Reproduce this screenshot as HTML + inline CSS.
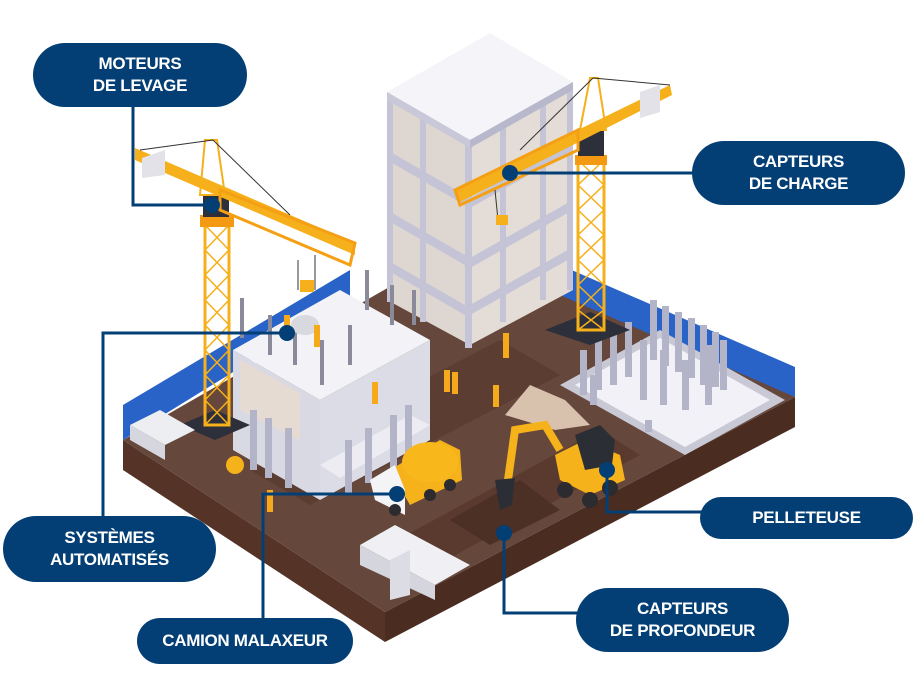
<!DOCTYPE html>
<html><head><meta charset="utf-8"><style>
html,body{margin:0;padding:0;background:#fff;}
.w{position:relative;width:921px;height:676px;overflow:hidden;font-family:"Liberation Sans",sans-serif;}
.p{position:absolute;background:#033f74;color:#fff;border-radius:34px;display:flex;align-items:center;justify-content:center;text-align:center;font-weight:bold;font-size:17px;line-height:22px;letter-spacing:-0.3px;}
svg{position:absolute;left:0;top:0;}
</style></head><body><div class="w">
<svg width="921" height="676" viewBox="0 0 921 676">
<!-- platform -->
<polygon points="123,440 385,612 385,642 123,470" fill="#553427"/>
<polygon points="385,612 795,397 795,427 385,642" fill="#4a2c20"/>
<polygon points="123,440 485,232 795,397 385,612" fill="#65473b"/>
<!-- darker paths -->
<polygon points="250,470 500,340 560,375 310,505" fill="#5c3d31"/>
<polygon points="360,560 600,430 640,455 400,585" fill="#5a3a2e"/>
<polygon points="450,520 520,480 560,510 490,545" fill="#4d3025"/>
<!-- fences -->
<polygon points="123,440 123,405 350,270 350,300" fill="#2a63c7"/>
<polygon points="560,265 795,367 795,397 560,295" fill="#2a63c7"/>
<!-- right pad -->
<polygon points="560,385 660,330 785,400 685,455" fill="#c9c9d6"/>
<polygon points="575,385 660,338 770,400 685,447" fill="#f1f1f7"/>
<g fill="#b4b4c8">
<rect x="580" y="350" width="7" height="45"/><rect x="595" y="340" width="7" height="50"/><rect x="610" y="330" width="7" height="55"/><rect x="625" y="322" width="7" height="55"/><rect x="650" y="300" width="7" height="60"/><rect x="662" y="306" width="7" height="60"/><rect x="675" y="312" width="7" height="60"/><rect x="688" y="318" width="7" height="60"/><rect x="700" y="325" width="7" height="60"/><rect x="712" y="332" width="7" height="55"/><rect x="720" y="340" width="7" height="50"/><rect x="640" y="340" width="7" height="60"/><rect x="660" y="350" width="7" height="55"/><rect x="682" y="360" width="7" height="50"/><rect x="705" y="345" width="7" height="60"/><rect x="590" y="375" width="7" height="30"/><rect x="645" y="420" width="7" height="12"/>
</g>
<!-- tall building -->
<polygon points="387,92 470,140 470,345 387,300" fill="#ded6d0"/>
<polygon points="470,140 573,82 573,290 470,345" fill="#e4dcd6"/>
<g fill="#c4c4d6">
<polygon points="387,150 470,198 470,208 387,160"/><polygon points="387,210 470,258 470,268 387,220"/><polygon points="387,260 470,308 470,318 387,270"/>
<polygon points="470,198 573,140 573,150 470,208"/><polygon points="470,258 573,200 573,210 470,268"/><polygon points="470,305 573,247 573,257 470,315"/>
<rect x="387" y="92" width="6" height="210"/><rect x="420" y="112" width="6" height="210"/><rect x="465" y="138" width="7" height="210"/><rect x="500" y="122" width="6" height="200"/><rect x="540" y="100" width="6" height="200"/><rect x="567" y="85" width="6" height="205"/>
</g>
<polygon points="387,92 490,33 573,82 470,140" fill="#f5f4f9"/>
<polygon points="387,92 470,140 470,148 387,100" fill="#c8c8d8"/>
<polygon points="470,140 573,82 573,90 470,148" fill="#b8b8cc"/>
<!-- left building -->
<polygon points="233,350 320,400 320,500 233,450" fill="#d9d9e3"/>
<polygon points="320,400 430,340 430,440 320,500" fill="#dcdce6"/>
<polygon points="233,350 340,290 430,340 320,400" fill="#f2f2f7"/>
<polygon points="240,360 300,393 300,440 240,410" fill="#e6dbd2"/>
<polygon points="320,465 410,415 430,425 340,478" fill="#ececf2"/>
<g fill="#b4b4c8"><rect x="250" y="410" width="7" height="60"/><rect x="265" y="418" width="7" height="60"/><rect x="285" y="428" width="7" height="60"/><rect x="345" y="440" width="7" height="55"/><rect x="365" y="428" width="7" height="55"/><rect x="390" y="415" width="7" height="55"/><rect x="405" y="405" width="7" height="55"/></g>
<g fill="#8a8a9a"><rect x="240" y="298" width="4" height="40"/><rect x="268" y="315" width="4" height="40"/><rect x="293" y="320" width="4" height="45"/><rect x="320" y="340" width="4" height="45"/><rect x="348" y="325" width="4" height="40"/><rect x="365" y="270" width="4" height="40"/><rect x="390" y="285" width="4" height="40"/><rect x="412" y="290" width="4" height="35"/></g>
<!-- left crane -->
<polygon points="180,425 215,410 250,425 215,440" fill="#2d2f3a"/>
<rect x="205" y="225" width="24" height="200" fill="none" stroke="#f5b01b" stroke-width="3"/>
<path d="M205,225 L229,250 L205,275 L229,300 L205,325 L229,350 L205,375 L229,400 L205,425 M229,225 L205,250 L229,275 L205,300 L229,325 L205,350 L229,375 L205,400 L229,425" stroke="#f5b01b" stroke-width="1.5" fill="none"/>
<rect x="200" y="215" width="34" height="12" fill="#f39a12"/>
<rect x="203" y="195" width="26" height="22" fill="#2d2f3a"/>
<polygon points="205,140 217,140 225,195 200,195" fill="none" stroke="#f5b01b" stroke-width="2"/>
<polygon points="135,148 355,243 355,255 135,160" fill="#f5b01b"/>
<polygon points="220,190 355,243 350,265 220,210" fill="none" stroke="#f5a014" stroke-width="3"/>
<polygon points="142,158 165,150 165,175 142,178" fill="#e2e2e8"/>
<line x1="140" y1="150" x2="213" y2="140" stroke="#333" stroke-width="1"/>
<line x1="213" y1="140" x2="290" y2="215" stroke="#333" stroke-width="1"/>
<line x1="298" y1="260" x2="298" y2="290" stroke="#333"/><line x1="315" y1="255" x2="315" y2="290" stroke="#333"/>
<rect x="300" y="280" width="14" height="12" fill="#f5b01b"/>
<ellipse cx="305" cy="325" rx="14" ry="10" fill="#d8d8df"/>
<!-- right crane -->
<polygon points="545,330 590,312 630,330 590,345" fill="#2d2f3a"/>
<rect x="578" y="160" width="26" height="170" fill="none" stroke="#f5b01b" stroke-width="3"/>
<path d="M578,160 L604,185 L578,210 L604,235 L578,260 L604,285 L578,310 L604,330 M604,160 L578,185 L604,210 L578,235 L604,260 L578,285 L604,310 L578,330" stroke="#f5b01b" stroke-width="1.5" fill="none"/>
<rect x="575" y="155" width="32" height="10" fill="#f39a12"/>
<rect x="578" y="130" width="26" height="26" fill="#2d2f3a"/>
<polygon points="590,78 598,78 606,130 580,130" fill="none" stroke="#f5b01b" stroke-width="2"/>
<polygon points="455,190 670,85 672,95 458,203" fill="#f5b01b"/>
<polygon points="455,190 578,130 578,150 460,205" fill="none" stroke="#f5a014" stroke-width="3"/>
<polygon points="640,92 660,85 660,112 640,118" fill="#e2e2e8"/>
<line x1="593" y1="78" x2="670" y2="85" stroke="#333"/><line x1="593" y1="78" x2="520" y2="150" stroke="#333"/>
<line x1="495" y1="190" x2="498" y2="220" stroke="#333"/><rect x="496" y="215" width="12" height="10" fill="#f5b01b"/>
<!-- stacks -->
<polygon points="130,425 160,410 195,430 165,445" fill="#eceef2"/>
<polygon points="130,425 165,445 165,460 130,440" fill="#d6d6de"/>
<polygon points="360,545 395,525 470,565 435,585" fill="#f0f0f4"/>
<polygon points="360,545 435,585 435,600 360,565" fill="#d5d5dd"/>
<polygon points="390,560 410,550 410,595 390,600" fill="#dcdce4"/>
<!-- sand -->
<polygon points="505,415 530,385 565,400 590,425 555,430" fill="#d8c2ad"/>
<!-- truck -->
<polygon points="390,470 440,440 460,450 462,480 410,505" fill="#f6b21b"/>
<ellipse cx="430" cy="462" rx="28" ry="20" fill="#f8b81c"/>
<polygon points="370,480 395,465 405,490 405,515 375,500" fill="#f4f4f6"/>
<circle cx="395" cy="510" r="6" fill="#2b2b30"/><circle cx="430" cy="495" r="6" fill="#2b2b30"/><circle cx="450" cy="485" r="6" fill="#2b2b30"/>
<!-- excavator -->
<polygon points="555,455 585,440 620,455 625,480 590,495 560,480" fill="#f6b21b"/>
<polygon points="575,435 600,425 615,440 612,465 585,470" fill="#2c2e36"/>
<circle cx="565" cy="490" r="8" fill="#2b2b30"/><circle cx="610" cy="488" r="8" fill="#2b2b30"/><circle cx="590" cy="500" r="8" fill="#2b2b30"/>
<path d="M560,450 L545,425 L515,430 L508,480" stroke="#f6b21b" stroke-width="8" fill="none"/>
<polygon points="495,480 515,478 512,505 500,510" fill="#2c2e36"/>
<!-- small mixer -->
<circle cx="235" cy="465" r="9" fill="#f6b21b"/>
<!-- workers -->
<g fill="#f6a91a"><rect x="372" y="382" width="6" height="22"/><rect x="444" y="370" width="6" height="22"/><rect x="452" y="372" width="6" height="22"/><rect x="493" y="385" width="6" height="22"/><rect x="503" y="333" width="6" height="25"/><rect x="267" y="490" width="6" height="22"/><rect x="314" y="325" width="6" height="22"/><rect x="284" y="315" width="6" height="18"/></g>
<!-- connectors -->
<g stroke="#033f74" stroke-width="3" fill="none">
<polyline points="133,105 133,205 212,205"/>
<polyline points="510,173 695,173"/>
<polyline points="103,520 103,333 287,333"/>
<polyline points="263,625 263,494 397,494"/>
<polyline points="607,470 607,512 705,512"/>
<polyline points="504,533 504,613 580,613"/>
</g>
<g fill="#033f74"><circle cx="212" cy="205" r="8"/><circle cx="510" cy="173" r="8"/><circle cx="287" cy="333" r="8"/><circle cx="397" cy="494" r="8"/><circle cx="607" cy="470" r="8"/><circle cx="504" cy="533" r="8"/></g>
</svg>
<div class="p" style="left:33px;top:43px;width:214px;height:64px;">MOTEURS<br>DE LEVAGE</div>
<div class="p" style="left:692px;top:141px;width:213px;height:64px;">CAPTEURS<br>DE CHARGE</div>
<div class="p" style="left:3px;top:516px;width:213px;height:66px;">SYSTÈMES<br>AUTOMATISÉS</div>
<div class="p" style="left:137px;top:618px;width:216px;height:46px;">CAMION MALAXEUR</div>
<div class="p" style="left:700px;top:497px;width:213px;height:42px;">PELLETEUSE</div>
<div class="p" style="left:576px;top:588px;width:213px;height:64px;">CAPTEURS<br>DE PROFONDEUR</div>
</div></body></html>
